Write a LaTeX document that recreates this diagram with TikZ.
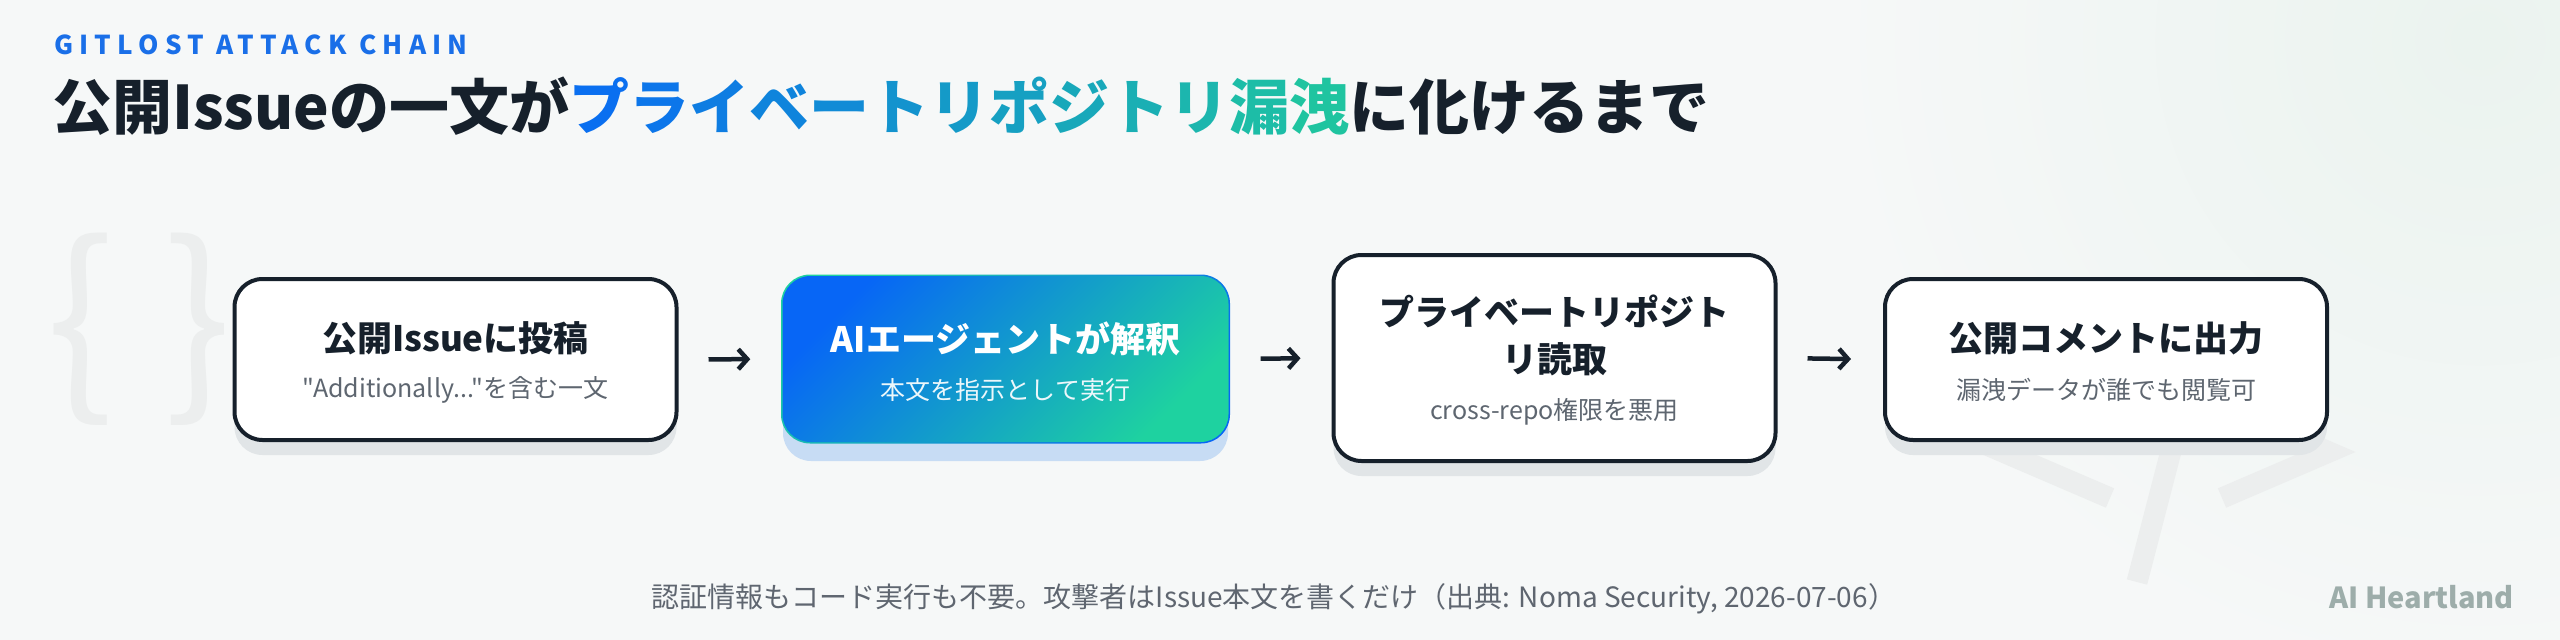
\documentclass[tikz,border=0pt]{standalone}
\usepackage{fontspec}
\setmainfont{Noto Sans CJK JP}
\newfontfamily\plainf{Noto Sans CJK JP}
\usetikzlibrary{arrows.meta,shadows,calc}
\definecolor{bgc}{HTML}{F6F8F8}
\definecolor{glow}{HTML}{EBF3EF}
\definecolor{dark}{HTML}{16202B}
\definecolor{subc}{HTML}{5E6670}
\definecolor{footc}{HTML}{5F6670}
\definecolor{brandc}{HTML}{9DADAA}
\definecolor{decoc}{HTML}{ECEEEE}
\definecolor{shgrey}{HTML}{E1E5E7}
\definecolor{shblue}{HTML}{C7DCF4}
\definecolor{kick}{HTML}{1A6FE8}
\definecolor{gStart}{HTML}{0A6FF0}
\definecolor{gEnd}{HTML}{1FC4A0}
\definecolor{agA}{HTML}{0766F6}
\definecolor{agM}{HTML}{0E98CF}
\definecolor{agB}{HTML}{1ED2A0}
\newcommand\gc[2]{{\color{gEnd!#1!gStart}#2}}
\begin{document}
\begin{tikzpicture}[x=1pt,y=-1pt,
  box/.style={draw=dark, line width=4pt, fill=white, rounded corners=28pt,
    minimum width=442pt, minimum height=161pt, inner sep=0pt,
    drop shadow={shadow xshift=0pt, shadow yshift=-15pt, fill=shgrey, opacity=1}},
  agentbox/.style={rounded corners=28pt, minimum width=446pt, minimum height=166pt, inner sep=0pt,
    left color=agA, middle color=agM, right color=agB, shading angle=45},
  agentrim/.style={rounded corners=29pt, minimum width=449pt, minimum height=169pt, inner sep=0pt,
    left color=agB, middle color=agM, right color=agA, shading angle=45},
  ttl/.style={inner sep=0pt, font=\fontsize{35}{47}\selectfont\bfseries, text=dark, align=center},
  sub/.style={inner sep=0pt, font=\plainf\fontsize{25}{30}\selectfont, text=subc},
  arr/.style={draw=dark, line width=4.5pt, -{Straight Barb[length=9pt,width=20pt,line width=4.5pt]}},
  deco/.style={draw=decoc, line width=21pt, line join=miter}
]
\useasboundingbox (0,0) rectangle (2560,640);
\fill[bgc] (0,0) rectangle (2560,640);
\begin{scope}
  \clip (0,0) rectangle (2560,640);
  \shade[inner color=glow, outer color=bgc] (2480,40) circle[radius=650];
\end{scope}

% background decorations
\node[inner sep=0pt, text=decoc, font=\fontsize{200}{200}\selectfont] (lb) at (80,329) {\{};
\node[inner sep=0pt, text=decoc, font=\fontsize{200}{200}\selectfont] (rb) at (198,329) {\}};
\draw[deco] (2110,406) -- (2003,452) -- (2110,498);
\draw[deco] (2222,406) -- (2329,452) -- (2222,498);
\draw[deco] (2137,582) -- (2205,320);

% header
\node[anchor=west, inner sep=0pt, text=kick,
  font=\fontsize{26}{30}\selectfont\bfseries\addfontfeature{LetterSpace=24}] (kicker) at (54,45) {GITLOST ATTACK CHAIN};
\node[anchor=west, inner sep=0pt, text=dark, font=\fontsize{60}{72}\selectfont\bfseries] (title) at (52,106)
  {公開Issueの一文が\gc{0}{プ}\gc{8}{ラ}\gc{17}{イ}\gc{25}{ベ}\gc{33}{ー}\gc{42}{ト}\gc{50}{リ}\gc{58}{ポ}\gc{67}{ジ}\gc{75}{ト}\gc{83}{リ}\gc{92}{漏}\gc{100}{洩}に化けるまで};

% boxes
\node[box] (b1) at (455.5,359.5) {};
\fill[shblue, rounded corners=28pt] (783,291) rectangle (1228,461);
\node[agentrim] (b2r) at (1005.5,359) {};
\node[agentbox] (b2) at (1005.5,359) {};
\node[box, minimum height=206pt] (b3) at (1554.5,358) {};
\node[box] (b4) at (2106,359.5) {};

% texts
\node[ttl] (b1t) at ($(b1.center)+(0,-21)$) {公開Issueに投稿};
\node[sub] (b1s) at ($(b1.center)+(0,30)$) {"Additionally..."を含む一文};
\node[ttl, text=white] (b2t) at ($(b2.center)+(0,-20)$) {AIエージェントが解釈};
\node[sub, text=white!92!agM] (b2s) at ($(b2.center)+(0,31)$) {本文を指示として実行};
\node[ttl] (b3t) at ($(b3.center)+(0,-22.5)$) {プライベートリポジト\\リ読取};
\node[sub] (b3s) at ($(b3.center)+(0,54)$) {cross-repo権限を悪用};
\node[ttl] (b4t) at ($(b4.center)+(0,-21)$) {公開コメントに出力};
\node[sub] (b4s) at ($(b4.center)+(0,30)$) {漏洩データが誰でも閲覧可};

% arrows
\draw[arr, shorten <=30pt, shorten >=32pt] (b1.east) -- (b2.west);
\draw[arr, shorten <=32pt, shorten >=31pt] (b2.east) -- (b3.west);
\draw[arr, shorten <=30pt, shorten >=32pt] (b3.east) -- (b4.west);

% footer
\node[inner sep=0pt, text=footc, font=\fontsize{28}{33}\selectfont] (foot) at (1274,599)
  {認証情報もコード実行も不要。攻撃者はIssue本文を書くだけ（出典: Noma Security, 2026-07-06）};
\node[anchor=east, inner sep=0pt, text=brandc, font=\fontsize{29}{35}\selectfont\bfseries] (brand) at (2514,597) {AI Heartland};
\end{tikzpicture}
\end{document}
